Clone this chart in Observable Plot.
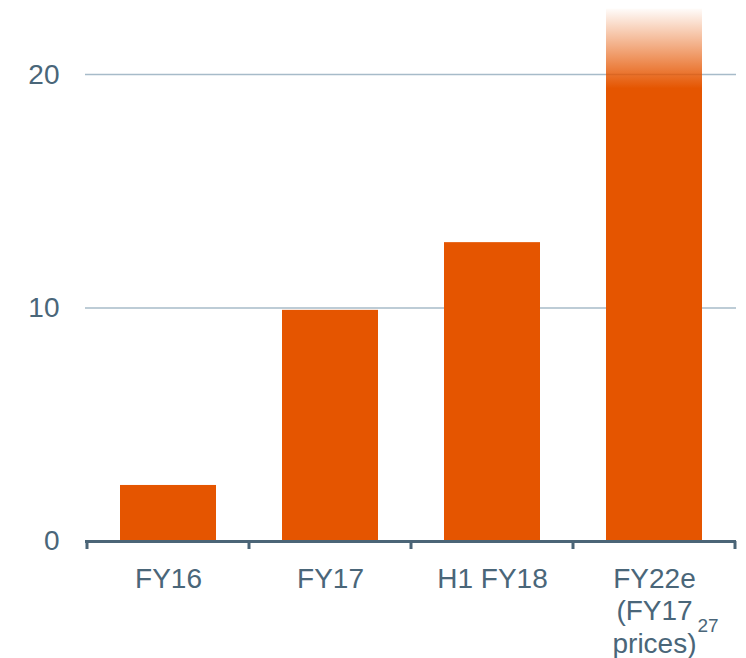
<!DOCTYPE html>
<html>
<head>
<meta charset="utf-8">
<script src="https://cdn.jsdelivr.net/npm/d3@7"></script>
<script src="https://cdn.jsdelivr.net/npm/@observablehq/plot@0.6"></script>
<style>
  html, body { margin: 0; padding: 0; background: #ffffff; }
  #chart { width: 746px; height: 658px; }
</style>
</head>
<body>
<div id="chart"></div>
<script>
const categories = ["FY16", "FY17", "H1 FY18", "FY22e"];
const values = [2.4, 9.9, 12.8, 22.8];
const tickLabels = ["FY16", "FY17", "H1 FY18", "FY22e\n(FY17\nprices)"];
const yTicks = [0, 10, 20];
const gridValues = [10, 20];
const fadedCategory = "FY22e";
const footnote = ["27"];

const orange = "#e55500";
const textColor = "#4a6679";
const axisColor = "#4b6577";
const gridColor = "#a7bbc9";

const rows = categories.map((c, i) => ({cat: c, value: values[i], label: tickLabels[i]}));
const labelOf = new Map(rows.map(r => [r.cat, r.label]));

const plot = Plot.plot({
  width: 746,
  height: 658,
  marginLeft: 85,
  marginRight: 10,
  marginTop: 4,
  marginBottom: 117,
  style: {fontFamily: "'Liberation Sans', Arial, sans-serif", fontSize: "28px", color: textColor, background: "#ffffff"},
  x: {domain: categories, paddingInner: 0.41, paddingOuter: 0.205, label: null},
  y: {domain: [0, 23], label: null},
  marks: [
    Plot.ruleY(gridValues, {stroke: gridColor, strokeWidth: 1.5}),
    Plot.barY(rows.filter(r => r.cat !== fadedCategory), {x: "cat", y: "value", fill: orange}),
    Plot.barY(rows.filter(r => r.cat === fadedCategory), {x: "cat", y: "value", fill: "url(#fade)"}),
    Plot.ruleY([0], {stroke: axisColor, strokeWidth: 3}),
    Plot.axisY({ticks: yTicks, tickSize: 0, tickPadding: 26, fontSize: 28, label: null, tickFormat: d => String(d)}),
    Plot.axisX({tickSize: 0, tickPadding: 23, fontSize: 28, lineHeight: 1.16, label: null, tickFormat: d => labelOf.get(d)}),
    Plot.text(footnote, {x: () => fadedCategory, y: () => 0, text: d => d, dx: 43, dy: 84,
      textAnchor: "start", lineAnchor: "middle", fontSize: 19, fill: textColor})
  ]
});

// gradient definition for the faded bar
const svg = d3.select(plot.tagName.toLowerCase() === "svg" ? plot : plot.querySelector("svg"));
const defs = svg.insert("defs", ":first-child");
const grad = defs.append("linearGradient").attr("id", "fade")
  .attr("x1", 0).attr("y1", 0).attr("x2", 0).attr("y2", 1);
grad.append("stop").attr("offset", 0).attr("stop-color", orange).attr("stop-opacity", 0.02);
grad.append("stop").attr("offset", 0.15).attr("stop-color", orange).attr("stop-opacity", 1);
grad.append("stop").attr("offset", 1).attr("stop-color", orange).attr("stop-opacity", 1);

// category boundary ticks on the x axis, positioned with Plot's scales
const xs = plot.scale("x");
const ys = plot.scale("y");
const sx = Plot.scale({x: xs});
const sy = Plot.scale({y: ys});
const gap = (xs.step - xs.bandwidth) / 2;
const edges = categories.map(c => sx.apply(c) - gap);
edges.push(sx.apply(categories[categories.length - 1]) + xs.bandwidth + gap);
const y0 = sy.apply(0);
svg.append("g").selectAll("line").data(edges).join("line")
  .attr("x1", d => d).attr("x2", d => d)
  .attr("y1", y0).attr("y2", y0 + 8)
  .attr("stroke", axisColor).attr("stroke-width", 3);

document.getElementById("chart").appendChild(plot);
</script>
</body>
</html>
